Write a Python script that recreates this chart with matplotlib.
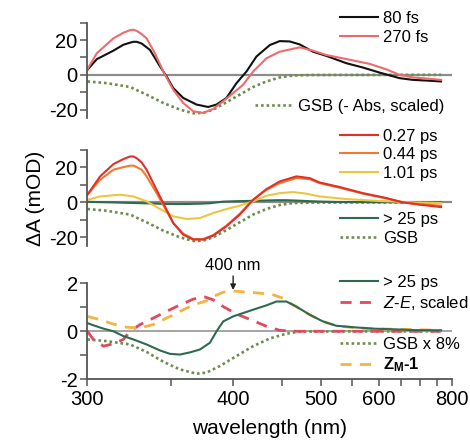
import matplotlib
matplotlib.use('Agg')
import matplotlib.pyplot as plt
from matplotlib.legend import Legend
import numpy as np

plt.rcParams['font.family'] = ['Liberation Sans', 'DejaVu Sans']
plt.rcParams['axes.unicode_minus'] = False
plt.rcParams['mathtext.fontset'] = 'custom'
plt.rcParams['mathtext.rm'] = 'Liberation Sans'
plt.rcParams['mathtext.it'] = 'Liberation Sans:italic'
plt.rcParams['mathtext.bf'] = 'Liberation Sans:bold'

# ---- panel 1: early times (mOD) ----
wl_80fs = [300, 304.9, 314.0, 319.7, 323.7, 325.7, 327.7, 330.8, 336.1, 342.7, 347.2, 351.8,
           359.0, 369.1, 378.4, 385.4, 394.0, 403.1, 412.6, 422.5, 436.6, 447.7, 459.5, 471.9,
           489.4, 508.4, 539.7, 568.9, 601.4, 645.8, 679.2, 726.1, 763]
da_80fs = [2.9, 9, 13.9, 17.3, 18.5, 19, 19, 18, 14.3, 4.8, -1, -7.6, -13.3, -17.1, -18.5,
           -17.1, -13.3, -4.8, 1.9, 10.5, 17.1, 19.4, 19.2, 17.5, 13.3, 10.9, 6.7, 4.2, 1.3,
           -1.9, -2.9, -3.4, -3.8]

wl_270fs = [300, 304.9, 314.0, 319.7, 323.7, 325.7, 327.7, 330.8, 333.9, 339.3, 344.9, 351.8,
            359.0, 366.6, 374.4, 382.6, 391.1, 400.0, 409.4, 419.2, 433.0, 447.7, 471.9, 489.4,
            508.4, 539.7, 581.5, 615.5, 645.8, 679.2, 726.1, 763]
da_270fs = [3.2, 12.4, 21, 24.2, 25.7, 25.9, 25.3, 23.4, 21, 12.4, 1.9, -8.6, -16.2, -21,
            -21.9, -19.6, -15.2, -10.5, -5.7, 1.9, 9.5, 13.3, 15.8, 13.9, 11.4, 9.1, 6.3, 3.2,
            0, -1.5, -2.3, -2.9]

wl_gsb = [300, 310.3, 323.7, 333.9, 344.9, 356.6, 366.6, 374.4, 382.6, 394.0, 406.2, 419.2,
          433.0, 447.7, 463.5, 489.4, 763]
da_gsb = [-3.8, -4.8, -7, -11.4, -16.2, -20, -22.1, -21.9, -20, -15.8, -11.4, -7, -3.8, -1.5,
          -0.4, -0.1, 0]

# ---- panel 2: ps times ----
wl_ps = [300, 306.7, 314.0, 319.7, 323.7, 325.7, 327.7, 330.8, 333.9, 340.4, 346.0, 351.8,
         359.0, 366.6, 374.4, 382.6, 394.0, 406.2, 419.2, 433.0, 447.7, 467.7, 484.9, 498.7,
         528.8, 568.9, 615.5, 653.8, 697.2, 763]
da_027ps = [4.4, 14.9, 21.9, 24.8, 26.3, 26.3, 25.3, 22.9, 18.7, 7.2, -2.3, -11.8, -18.5,
            -21.3, -21.3, -19, -13.7, -7, 1.5, 7.6, 12, 14.9, 13.9, 11.4, 8.8, 5.3, 2.5, 0,
            -1.3, -2.7]
da_044ps = [4.4, 13, 18.7, 20.2, 21, 21.1, 20.2, 18.7, 14.9, 5.3, -3.2, -11.8, -17.9, -21, -21,
            -18.7, -13.3, -6.5, 1.5, 7.2, 11, 13.9, 13.3, 11, 8.4, 5, 2.3, 0, -1, -1.9]

wl_101ps = [300, 306.7, 317.8, 325.7, 333.9, 342.7, 351.8, 361.5, 371.7, 382.6, 394.0, 406.2,
            419.2, 433.0, 447.7, 463.5, 480.5, 498.7, 539.7, 601.4, 679.2, 763]
da_101ps = [1.5, 3.4, 4.4, 3.4, 0.6, -3.8, -8, -9.5, -9, -6.1, -3.8, -1.9, 0.6, 3.8, 5.3, 5.9,
            5, 3.4, 1.9, 0.8, 0, -0.4]

# ---- long-lived (> 25 ps) ----
wl_25ps = [300, 303.1, 308.5, 314.0, 319.7, 325.7, 333.9, 342.7, 349.5, 356.6, 364.0, 371.7,
           379.8, 385.4, 391.1, 400.0, 409.4, 419.2, 433.0, 444.0, 455.5, 467.7, 484.9, 503.5,
           523.6, 551.0, 588.0, 637.9, 679.2, 763]
da_25ps = [0.34, 0.25, 0.11, 0, -0.2, -0.34, -0.55, -0.8, -0.94, -0.97, -0.88, -0.76, -0.48, 0,
           0.41, 0.62, 0.76, 0.9, 1.08, 1.24, 1.24, 1.03, 0.69, 0.41, 0.23, 0.17, 0.11, 0.08,
           0.05, 0.04]

# ---- panel 3 references ----
wl_ze = [300, 303.1, 308.5, 314.0, 319.7, 323.7, 329.8, 338.2, 347.2, 356.6, 366.6, 375.7,
         382.6, 391.1, 403.1, 419.2, 433.0, 447.7, 467.7, 763]
da_ze = [0, -0.34, -0.62, -0.52, -0.34, 0, 0.28, 0.55, 0.83, 1.1, 1.34, 1.43, 1.31, 1.03, 0.72,
         0.44, 0.21, 0.04, 0, 0]

wl_zm = [300, 306.7, 314.0, 321.7, 329.8, 338.2, 347.2, 356.6, 366.6, 377.1, 382.6, 391.1,
         400.0, 412.6, 426.0, 440.2, 451.6, 463.5, 484.9, 503.5, 523.6, 556.8, 601.4, 679.2, 763]
da_zm = [0.62, 0.48, 0.3, 0.17, 0.14, 0.28, 0.55, 0.83, 1.1, 1.27, 1.45, 1.63, 1.68, 1.63, 1.59,
         1.52, 1.38, 1.1, 0.69, 0.41, 0.23, 0.14, 0.1, 0.07, 0.04]

wl_gsb8 = [300, 310.3, 323.7, 333.9, 344.9, 356.6, 369.1, 377.1, 388.2, 403.1, 419.2, 436.6,
           455.5, 471.9, 763]
da_gsb8 = [-0.34, -0.41, -0.55, -0.86, -1.27, -1.59, -1.77, -1.72, -1.45, -1.03, -0.62, -0.3,
           -0.1, -0.01, 0]

xticks_major = [300, 400, 500, 600, 800]
xticks_minor = [350, 450, 550, 650, 700, 750]

c_black = '#111111'
c_270 = '#ee6b6b'
c_gsb = '#6e8c4e'
c_027 = '#e0302a'
c_044 = '#f07a32'
c_101 = '#edc640'
c_25 = '#2f6a50'
c_ze = '#e2485e'
c_zm = '#f2b444'
c_zero = '#8c8c8c'
c_spine = '#555555'

dot = (0, (1, 1.1))
dash = (0, (4, 3))


def fwd(x):
    with np.errstate(divide='ignore'):
        return -1.0 / np.asarray(x, dtype=float)


def inv(y):
    with np.errstate(divide='ignore'):
        return -1.0 / np.asarray(y, dtype=float)


def style(ax, bottom):
    ax.set_xscale('function', functions=(fwd, inv))
    ax.set_xlim(300, 800)
    for s in ['top', 'right']:
        ax.spines[s].set_visible(False)
    ax.spines['left'].set_color(c_spine)
    ax.spines['left'].set_linewidth(1.3)
    ax.tick_params(axis='y', which='both', direction='out', length=5, width=1.1,
                   color=c_spine, labelsize=14.5, pad=2)
    if bottom:
        ax.spines['bottom'].set_color(c_spine)
        ax.spines['bottom'].set_linewidth(1.3)
        ax.set_xticks(xticks_major)
        ax.set_xticklabels([str(t) for t in xticks_major])
        ax.set_xticks(xticks_minor, minor=True)
        ax.set_xticklabels([], minor=True)
        ax.tick_params(axis='x', which='both', direction='out', length=5, width=1.1,
                       color=c_spine, labelsize=14.5, pad=3)
    else:
        ax.spines['bottom'].set_visible(False)
        ax.set_xticks([])
        ax.set_xticks([], minor=True)


fig = plt.figure(figsize=(4.70, 4.42), dpi=100)
L, W = 0.186, 0.775
ax1 = fig.add_axes([L, 0.7324, W, 0.2163])
ax2 = fig.add_axes([L, 0.4434, W, 0.2172])
ax3 = fig.add_axes([L, 0.1419, W, 0.2172])

lw = 1.5

# panel 1
style(ax1, False)
ax1.axhline(0, color=c_zero, lw=1.6, zorder=1)
ax1.plot(wl_gsb, da_gsb, color=c_gsb, lw=1.9, ls=dot, label='GSB (- Abs, scaled)')
ax1.plot(wl_80fs, da_80fs, color=c_black, lw=lw, label='80 fs')
ax1.plot(wl_270fs, da_270fs, color=c_270, lw=lw, label='270 fs')
ax1.set_ylim(-25, 30)
ax1.set_yticks([-20, 0, 20])
ax1.set_yticks([-10, 10, 30], minor=True)

# panel 2
style(ax2, False)
ax2.axhline(0, color=c_zero, lw=1.6, zorder=1)
ax2.plot(wl_gsb, da_gsb, color=c_gsb, lw=1.9, ls=dot, label='GSB')
ax2.plot(wl_25ps, da_25ps, color=c_25, lw=lw, label='> 25 ps')
ax2.plot(wl_101ps, da_101ps, color=c_101, lw=lw, label='1.01 ps')
ax2.plot(wl_ps, da_044ps, color=c_044, lw=lw, label='0.44 ps')
ax2.plot(wl_ps, da_027ps, color=c_027, lw=lw, label='0.27 ps')
ax2.set_ylim(-25, 30)
ax2.set_yticks([-20, 0, 20])
ax2.set_yticks([-10, 10, 30], minor=True)
ax2.set_ylabel('ΔA (mOD)', fontsize=15, labelpad=3)

# panel 3
ze_label = r'$\it{Z}$-$\it{E}$, scaled'
zm_label = r'$\mathbf{Z_M}$$\mathbf{‐1}$'
style(ax3, True)
ax3.axhline(0, color=c_zero, lw=1.1, zorder=1)
ax3.plot(wl_gsb8, da_gsb8, color=c_gsb, lw=1.9, ls=dot, label='GSB x 8%')
ax3.plot(wl_ze, da_ze, color=c_ze, lw=2, ls=dash, label=ze_label)
ax3.plot(wl_zm, da_zm, color=c_zm, lw=2, ls=dash, label=zm_label)
ax3.plot(wl_25ps, da_25ps, color=c_25, lw=lw, label='> 25 ps')
ax3.set_ylim(-2, 2)
ax3.set_yticks([-2, 0, 2])
ax3.set_yticks([-1, 1], minor=True)
ax3.set_xlabel('wavelength (nm)', fontsize=15, labelpad=7)
ax3.annotate('400 nm', xy=(400, 1.72), xytext=(400, 2.42), ha='center', va='bottom',
             fontsize=12, annotation_clip=False,
             arrowprops=dict(arrowstyle='-|>', color='#222222', lw=1, mutation_scale=8,
                             shrinkA=0, shrinkB=0))

leg_kw = dict(frameon=False, fontsize=12, handlelength=2.3, handletextpad=0.3,
              labelspacing=0.22, borderpad=0, borderaxespad=0)


def legend(ax, names, x, y):
    hs, ls = ax.get_legend_handles_labels()
    picked = [(h, l) for n in names for h, l in zip(hs, ls) if l == n]
    lg = Legend(ax, [p[0] for p in picked], [p[1] for p in picked], loc='center left',
                bbox_to_anchor=(x, y), **leg_kw)
    ax.add_artist(lg)


legend(ax1, ['80 fs', '270 fs'], 0.6935, 0.947)
legend(ax1, ['GSB (- Abs, scaled)'], 0.46, 0.121)
legend(ax2, ['0.27 ps', '0.44 ps', '1.01 ps'], 0.6935, 0.95)
legend(ax2, ['> 25 ps', 'GSB'], 0.6935, 0.18)
legend(ax3, ['> 25 ps', ze_label], 0.6935, 0.896)
legend(ax3, ['GSB x 8%', zm_label], 0.6935, 0.248)

fig.savefig('out.png', dpi=100)
